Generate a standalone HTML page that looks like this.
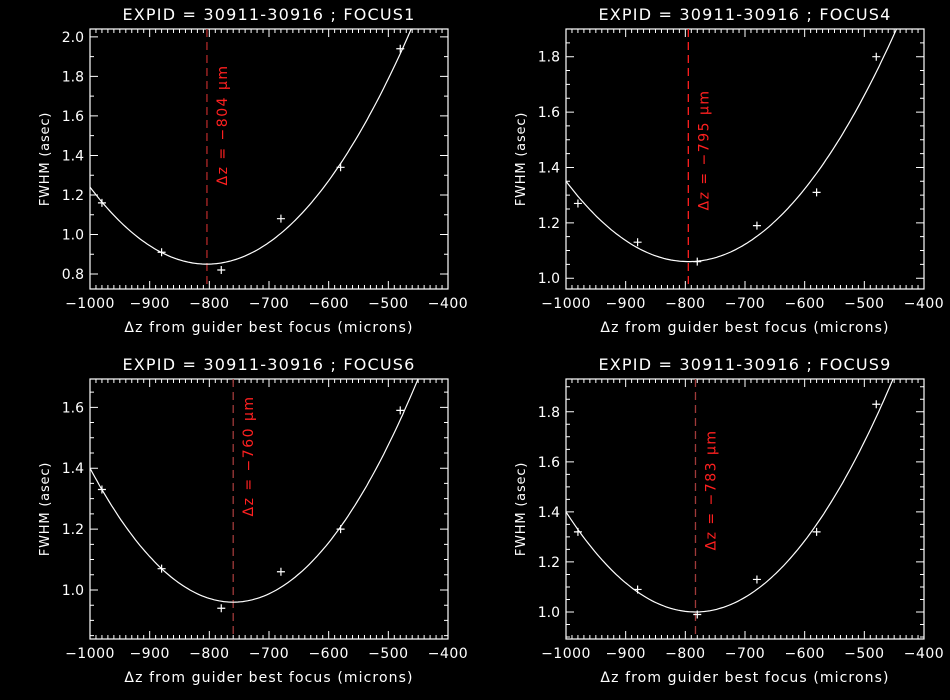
<!DOCTYPE html>
<html><head><meta charset="utf-8"><style>
body{margin:0;background:#000;width:950px;height:700px;overflow:hidden}
svg{display:block}
text{font-family:"DejaVu Sans","Liberation Sans",sans-serif;fill:#fff}
</style></head><body>
<svg id="c" width="950" height="700" xmlns="http://www.w3.org/2000/svg"></svg>
<script>
const titles=["EXPID = 30911-30916 ; FOCUS1","EXPID = 30911-30916 ; FOCUS4","EXPID = 30911-30916 ; FOCUS6","EXPID = 30911-30916 ; FOCUS9"];
const xPoints=[-980,-880,-780,-680,-580,-480];
const fwhm1=[1.16,0.91,0.82,1.08,1.34,1.94];
const fwhm4=[1.27,1.13,1.06,1.19,1.31,1.80];
const fwhm6=[1.33,1.07,0.94,1.06,1.20,1.59];
const fwhm9=[1.32,1.09,0.99,1.13,1.32,1.83];
const bestFocus=[-804,-795,-760,-783];
const minFwhm=[0.85,1.06,0.96,1.00];
const curvature=[1.015e-5,6.9e-6,7.64e-6,8.49e-6];
const yRanges=[[0.724,2.04],[0.961,1.90],[0.839,1.693],[0.892,1.931]];
const yMajor=[[0.8,1.0,1.2,1.4,1.6,1.8,2.0],[1.0,1.2,1.4,1.6,1.8],[1.0,1.2,1.4,1.6],[1.0,1.2,1.4,1.6,1.8]];
const yMinorStep=[0.1,0.05,0.05,0.05];
const xTicks=[-1000,-900,-800,-700,-600,-500,-400];
const series=[fwhm1,fwhm4,fwhm6,fwhm9];
const boxes=[[90,29,448,289],[566,29,924,289],[90,379,448,639],[566,379,924,639]];
const lineCol=["#b02828","#ff2020","#a03a3a","#a03a3a"];
const labelCenter=[125,150,456,490];
const NS="http://www.w3.org/2000/svg";
const svg=document.getElementById('c');
function mk(t,a,p){const e=document.createElementNS(NS,t);for(const k in a)e.setAttribute(k,a[k]);(p||svg).appendChild(e);return e;}
for(let i=0;i<4;i++){
 const [L,T,R,B]=boxes[i];const [y0,y1]=yRanges[i];
 const g=mk('g',{});
 
 
 const X=v=>L+(v+1000)/600*(R-L);
 const Y=v=>B-(v-y0)/(y1-y0)*(B-T);
 const t=mk('text',{x:(L+R)/2,y:T-9,'text-anchor':'middle','font-size':16,'letter-spacing':'1.2'},g);t.textContent=titles[i];
 
 const fr=mk('rect',{x:L,y:T,width:R-L,height:B-T,fill:'none',stroke:'#fff','stroke-width':1.2},g);
 
 let d='';
 for(let v=-1000;v<=-400;v+=10){const x=X(v);const len=(v%100===0)?8:4;d+=`M${x},${B}V${B-len}M${x},${T}V${T+len}`;}
 const st=yMinorStep[i];
 for(let k=Math.ceil(y0/st-1e-6);k*st<=y1+1e-9;k++){const v=k*st;const y=Y(v);const maj=yMajor[i].some(m=>Math.abs(m-v)<1e-6);const len=maj?8:4;d+=`M${L},${y}H${L+len}M${R},${y}H${R-len}`;}
 const tk=mk('path',{d:d,stroke:'#fff','stroke-width':1,fill:'none'},g);
 
 xTicks.forEach(v=>{const e=mk('text',{x:X(v),y:B+19,'text-anchor':'middle','font-size':14,'letter-spacing':'0.5'},g);e.textContent=v<0?'\u2212'+(-v):v;
  });
 yMajor[i].forEach(v=>{const e=mk('text',{x:L-6,y:Y(v)+5,'text-anchor':'end','font-size':14},g);e.textContent=v.toFixed(1);
  });
 const xt=mk('text',{x:(L+R)/2,y:B+43,'text-anchor':'middle','font-size':14,'letter-spacing':'1.1'},g);xt.textContent='\u0394z from guider best focus (microns)';
 
 const yt=mk('text',{x:0,y:0,'text-anchor':'middle','font-size':13,'letter-spacing':'0.8',transform:`translate(${L-41},${(T+B)/2}) rotate(-90)`},g);yt.textContent='FWHM (asec)';
 
 const bx=X(bestFocus[i]);
 const bl=mk('line',{x1:bx,y1:T,x2:bx,y2:B,stroke:lineCol[i],'stroke-width':1.3,'stroke-dasharray':'8,5'},g);
 
 const lab=mk('text',{x:0,y:0,'text-anchor':'middle','font-size':14,'letter-spacing':'1.5',style:'fill:#ff2020',transform:`translate(${bx+20},${labelCenter[i]}) rotate(-90)`},g);
 lab.textContent='\u0394z = \u2212'+(-bestFocus[i])+' \u03bcm';
 
 const cp=mk('clipPath',{id:'cl'+i},g);mk('rect',{x:L,y:T,width:R-L,height:B-T},cp);
 let pd='';for(let v=-1000;v<=-400;v+=4){const f=curvature[i]*(v-bestFocus[i])**2+minFwhm[i];pd+=(pd?'L':'M')+X(v).toFixed(1)+','+Y(f).toFixed(1);}
 const cv=mk('path',{d:pd,stroke:'#fff','stroke-width':1.2,fill:'none','clip-path':`url(#cl${i})`},g);
 
 series[i].forEach((v,j)=>{const x=X(xPoints[j]),y=Y(v);
  const p=mk('path',{d:`M${x-4},${y}H${x+4}M${x},${y-4}V${y+4}`,stroke:'#fff','stroke-width':1.2},g);
  });
}
</script>
</body></html>
